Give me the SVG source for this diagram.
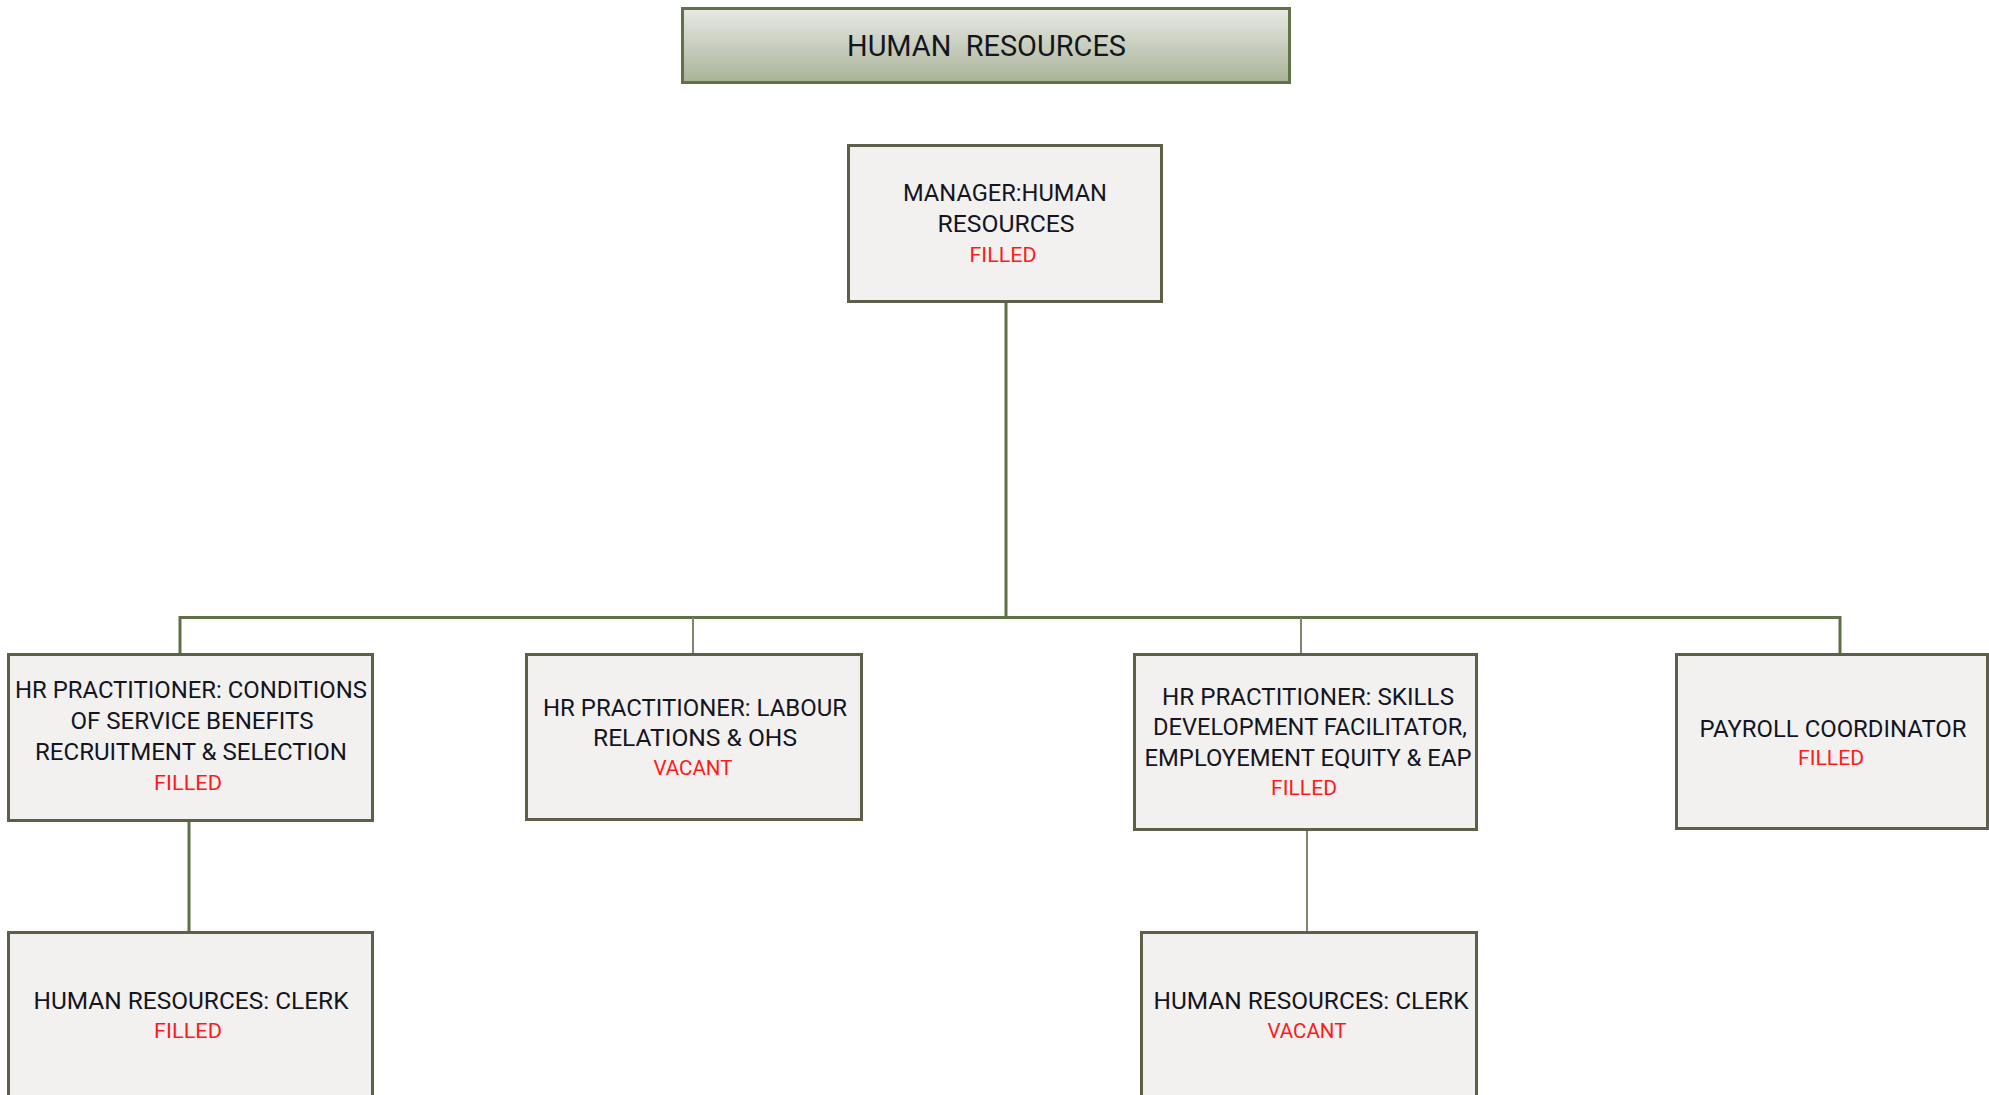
<svg xmlns="http://www.w3.org/2000/svg" width="1989" height="1095" viewBox="0 0 1989 1095">
<defs>
<linearGradient id="tg" x1="0" y1="0" x2="0" y2="1">
<stop offset="0" stop-color="#e8e9e4"/>
<stop offset="1" stop-color="#a8b398"/>
</linearGradient>
<style>
.box{fill:#f2f1f0;stroke:#5f5f49;stroke-width:3}
.t{font-family:Roboto,"Liberation Sans",sans-serif;font-size:24px;fill:#15151f;text-anchor:middle}
.r{font-family:Roboto,"Liberation Sans",sans-serif;font-size:20px;fill:#ff1a1a;text-anchor:middle}
.c{fill:none;stroke:#5f7046;stroke-width:3}
.ct{fill:none;stroke:#7d8470;stroke-width:2}
</style>
</defs>
<rect width="1989" height="1095" fill="#ffffff"/>
<g id="connectors">
<path class="c" d="M1006 303V617.5M178.5 617.5H1841.5M180 617.5V653M1840 617.5V653M189 822V931"/>
<path class="ct" d="M693 617.5V653M1301 617.5V653M1307 831V931"/>
</g>
<g id="title">
<rect x="682.5" y="8.5" width="607" height="74" fill="url(#tg)" stroke="#5f7346" stroke-width="3"/>
<text x="986.5" y="56" class="t" xml:space="preserve" textLength="279" lengthAdjust="spacingAndGlyphs" style="font-size:29px;white-space:pre">HUMAN  RESOURCES</text>
</g>
<g id="manager">
<rect class="box" x="848.5" y="145.5" width="313" height="156"/>
<text class="t" x="1005" y="201" textLength="204" lengthAdjust="spacingAndGlyphs">MANAGER:HUMAN</text>
<text class="t" x="1006" y="232" textLength="137" lengthAdjust="spacingAndGlyphs">RESOURCES</text>
<text class="r" x="1003" y="262" textLength="67" lengthAdjust="spacingAndGlyphs">FILLED</text>
</g>
<g id="hr-conditions">
<rect class="box" x="8.5" y="654.5" width="364" height="166"/>
<text class="t" x="191" y="698" textLength="352" lengthAdjust="spacingAndGlyphs">HR PRACTITIONER: CONDITIONS</text>
<text class="t" x="192" y="729" textLength="243" lengthAdjust="spacingAndGlyphs">OF SERVICE BENEFITS</text>
<text class="t" x="191" y="760" textLength="312" lengthAdjust="spacingAndGlyphs">RECRUITMENT &amp; SELECTION</text>
<text class="r" x="188" y="790" textLength="68" lengthAdjust="spacingAndGlyphs">FILLED</text>
</g>
<g id="hr-labour">
<rect class="box" x="526.5" y="654.5" width="335" height="165"/>
<text class="t" x="695" y="716" textLength="304" lengthAdjust="spacingAndGlyphs">HR PRACTITIONER: LABOUR</text>
<text class="t" x="695" y="746" textLength="204" lengthAdjust="spacingAndGlyphs">RELATIONS &amp; OHS</text>
<text class="r" x="693" y="775" textLength="79" lengthAdjust="spacingAndGlyphs">VACANT</text>
</g>
<g id="hr-skills">
<rect class="box" x="1134.5" y="654.5" width="342" height="175"/>
<text class="t" x="1308" y="705" textLength="292" lengthAdjust="spacingAndGlyphs">HR PRACTITIONER: SKILLS</text>
<text class="t" x="1310" y="735" textLength="314" lengthAdjust="spacingAndGlyphs">DEVELOPMENT FACILITATOR,</text>
<text class="t" x="1308" y="766" textLength="327" lengthAdjust="spacingAndGlyphs">EMPLOYEMENT EQUITY &amp; EAP</text>
<text class="r" x="1304" y="795" textLength="66" lengthAdjust="spacingAndGlyphs">FILLED</text>
</g>
<g id="payroll">
<rect class="box" x="1676.5" y="654.5" width="311" height="174"/>
<text class="t" x="1833" y="737" textLength="267" lengthAdjust="spacingAndGlyphs">PAYROLL COORDINATOR</text>
<text class="r" x="1831" y="765" textLength="66" lengthAdjust="spacingAndGlyphs">FILLED</text>
</g>
<g id="clerk-1">
<rect class="box" x="8.5" y="932.5" width="364" height="200"/>
<text class="t" x="191" y="1009" textLength="315" lengthAdjust="spacingAndGlyphs">HUMAN RESOURCES: CLERK</text>
<text class="r" x="188" y="1038" textLength="68" lengthAdjust="spacingAndGlyphs">FILLED</text>
</g>
<g id="clerk-2">
<rect class="box" x="1141.5" y="932.5" width="335" height="200"/>
<text class="t" x="1311" y="1009" textLength="315" lengthAdjust="spacingAndGlyphs">HUMAN RESOURCES: CLERK</text>
<text class="r" x="1307" y="1038" textLength="79" lengthAdjust="spacingAndGlyphs">VACANT</text>
</g>
</svg>
